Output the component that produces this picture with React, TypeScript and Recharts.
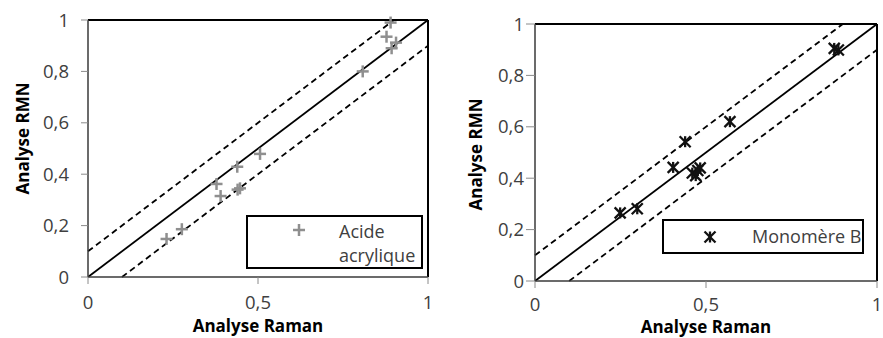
import React from 'react';
import {
  ScatterChart,
  Scatter,
  XAxis,
  YAxis,
  ReferenceLine,
  Legend,
} from 'recharts';

// ---- data ----
const acideX = [0.89, 0.878, 0.906, 0.893, 0.808, 0.506, 0.439, 0.447, 0.44, 0.378, 0.39, 0.276, 0.231];
const acideY = [0.99, 0.935, 0.912, 0.89, 0.8, 0.479, 0.429, 0.345, 0.34, 0.362, 0.315, 0.186, 0.148];

const monoX = [0.875, 0.887, 0.57, 0.439, 0.404, 0.483, 0.46, 0.47, 0.476, 0.249, 0.299];
const monoY = [0.905, 0.899, 0.62, 0.542, 0.442, 0.44, 0.42, 0.41, 0.43, 0.265, 0.281];

const xTicks = [0, 0.5, 1];
const yTicks = [0, 0.2, 0.4, 0.6, 0.8, 1];

const seriesNames = ['Acide acrylique', 'Monomère B'];
const xTitle = 'Analyse Raman';
const yTitle = 'Analyse RMN';

const acideData = acideX.map((x, i) => ({ x, y: acideY[i] }));
const monoData = monoX.map((x, i) => ({ x, y: monoY[i] }));

const FONT = '"Open Sans", sans-serif';
const TEXT = '#404040';
const fmt = (v: number) => String(v).replace('.', ',');

const PlusShape = (props: any) => {
  const { cx, cy } = props;
  if (cx == null || cy == null) return null;
  const s = 6;
  return (
    <g stroke="#8f8f8f" strokeWidth={2.5}>
      <line x1={cx - s} y1={cy} x2={cx + s} y2={cy} />
      <line x1={cx} y1={cy - s} x2={cx} y2={cy + s} />
    </g>
  );
};

const StarShape = (props: any) => {
  const { cx, cy } = props;
  if (cx == null || cy == null) return null;
  const s = 5.5;
  return (
    <g stroke="#111" strokeWidth={2.3}>
      <line x1={cx - s} y1={cy - s} x2={cx + s} y2={cy + s} />
      <line x1={cx - s} y1={cy + s} x2={cx + s} y2={cy - s} />
      <line x1={cx} y1={cy - s} x2={cx} y2={cy + s} />
    </g>
  );
};

const YTitle = (dx: number, dy: number) => (props: any) => {
  const vb = props.viewBox;
  const x = vb.x + dx;
  const y = vb.y + vb.height / 2 + dy;
  return (
    <text
      x={x}
      y={y}
      transform={`rotate(-90, ${x}, ${y})`}
      textAnchor="middle"
      dominantBaseline="central"
      fontFamily={FONT}
      fontWeight="bold"
      fontSize={17}
      fill="#000"
    >
      {yTitle}
    </text>
  );
};

const XTitle = (dy: number) => (props: any) => {
  const vb = props.viewBox;
  return (
    <text
      x={vb.x + vb.width / 2}
      y={vb.y + dy}
      textAnchor="middle"
      fontFamily={FONT}
      fontWeight="bold"
      fontSize={17}
      fill="#000"
    >
      {xTitle}
    </text>
  );
};

const LegendBox = (
  w: number,
  h: number,
  markerX: number,
  textX: number,
  textW: number,
  marker: 'plus' | 'star'
) => (props: any) => {
  const name = props.payload && props.payload[0] ? props.payload[0].value : '';
  return (
    <div
      style={{
        position: 'relative',
        width: w,
        height: h,
        border: '2px solid #000',
        boxSizing: 'border-box',
        background: '#fff',
        fontFamily: FONT,
        fontSize: 18,
        color: TEXT,
      }}
    >
      <svg
        width={16}
        height={16}
        style={{ position: 'absolute', left: markerX - 8, top: marker === 'plus' ? 5 : h / 2 - 10 }}
      >
        {marker === 'plus' ? <PlusShape cx={8} cy={8} /> : <StarShape cx={8} cy={8} />}
      </svg>
      <div
        style={{
          position: 'absolute',
          left: textX,
          top: marker === 'plus' ? 2 : 3,
          width: textW,
          lineHeight: '24px',
          whiteSpace: marker === 'plus' ? 'normal' : 'nowrap',
        }}
      >
        {name}
      </div>
    </div>
  );
};

const axisLine = { stroke: '#3a3a3a', strokeWidth: 1.5 };
const tickLine = { stroke: '#8a8a8a', strokeWidth: 1 };
const tickStyle = { fontFamily: FONT, fontSize: 18.5, fill: TEXT };

export default function App() {
  return (
    <div style={{ position: 'absolute', left: 0, top: 0, width: 883, height: 338, background: '#fff' }}>
      <div style={{ position: 'absolute', left: 0, top: 0 }}>
        <ScatterChart width={440} height={338} margin={{ top: 20, right: 12, left: 8, bottom: 6 }}>
          <XAxis
            type="number"
            dataKey="x"
            domain={[0, 1]}
            ticks={xTicks}
            tickFormatter={fmt}
            height={55}
            axisLine={axisLine}
            tickLine={tickLine}
            tickSize={7}
            tickMargin={12}
            tick={tickStyle}
            label={XTitle(55)}
          />
          <YAxis
            type="number"
            dataKey="y"
            domain={[0, 1]}
            ticks={yTicks}
            tickFormatter={fmt}
            width={80}
            axisLine={axisLine}
            tickLine={tickLine}
            tickSize={7}
            tickMargin={12}
            tick={tickStyle}
            label={YTitle(14, -10)}
          />
          <ReferenceLine y={1} stroke="#000" strokeWidth={2} />
          <ReferenceLine x={1} stroke="#000" strokeWidth={2} />
          <ReferenceLine segment={[{ x: 0, y: 0 }, { x: 1, y: 1 }]} stroke="#000" strokeWidth={1.8} />
          <ReferenceLine segment={[{ x: 0, y: 0.1 }, { x: 0.9, y: 1 }]} stroke="#000" strokeWidth={1.8} strokeDasharray="6 4" />
          <ReferenceLine segment={[{ x: 0.1, y: 0 }, { x: 1, y: 0.9 }]} stroke="#000" strokeWidth={1.8} strokeDasharray="6 4" />
          <Scatter name={seriesNames[0]} data={acideData} shape={PlusShape} isAnimationActive={false} />
          <Legend
            layout="horizontal"
            verticalAlign="middle"
            align="center"
            wrapperStyle={{ left: 246, top: 215, width: 177, height: 54 }}
            content={LegendBox(177, 54, 51, 91, 82, 'plus')}
          />
        </ScatterChart>
      </div>
      <div style={{ position: 'absolute', left: 440, top: 0 }}>
        <ScatterChart width={443} height={338} margin={{ top: 24, right: 6, left: 8, bottom: 7 }}>
          <XAxis
            type="number"
            dataKey="x"
            domain={[0, 1]}
            ticks={xTicks}
            tickFormatter={fmt}
            height={50}
            axisLine={axisLine}
            tickLine={tickLine}
            tickSize={7}
            tickMargin={10}
            tick={tickStyle}
            label={XTitle(52)}
          />
          <YAxis
            type="number"
            dataKey="y"
            domain={[0, 1]}
            ticks={yTicks}
            tickFormatter={fmt}
            width={87}
            axisLine={axisLine}
            tickLine={tickLine}
            tickSize={9}
            tickMargin={2}
            tick={tickStyle}
            label={YTitle(27, 2)}
          />
          <ReferenceLine y={1} stroke="#000" strokeWidth={2} />
          <ReferenceLine x={1} stroke="#000" strokeWidth={2} />
          <ReferenceLine segment={[{ x: 0, y: 0 }, { x: 1, y: 1 }]} stroke="#000" strokeWidth={1.8} />
          <ReferenceLine segment={[{ x: 0, y: 0.1 }, { x: 0.9, y: 1 }]} stroke="#000" strokeWidth={1.8} strokeDasharray="6 4" />
          <ReferenceLine segment={[{ x: 0.1, y: 0 }, { x: 1, y: 0.9 }]} stroke="#000" strokeWidth={1.8} strokeDasharray="6 4" />
          <Scatter name={seriesNames[1]} data={monoData} shape={StarShape} isAnimationActive={false} />
          <Legend
            layout="horizontal"
            verticalAlign="middle"
            align="center"
            wrapperStyle={{ left: 222, top: 219, width: 202, height: 35 }}
            content={LegendBox(202, 35, 46, 88, 120, 'star')}
          />
        </ScatterChart>
      </div>
    </div>
  );
}
